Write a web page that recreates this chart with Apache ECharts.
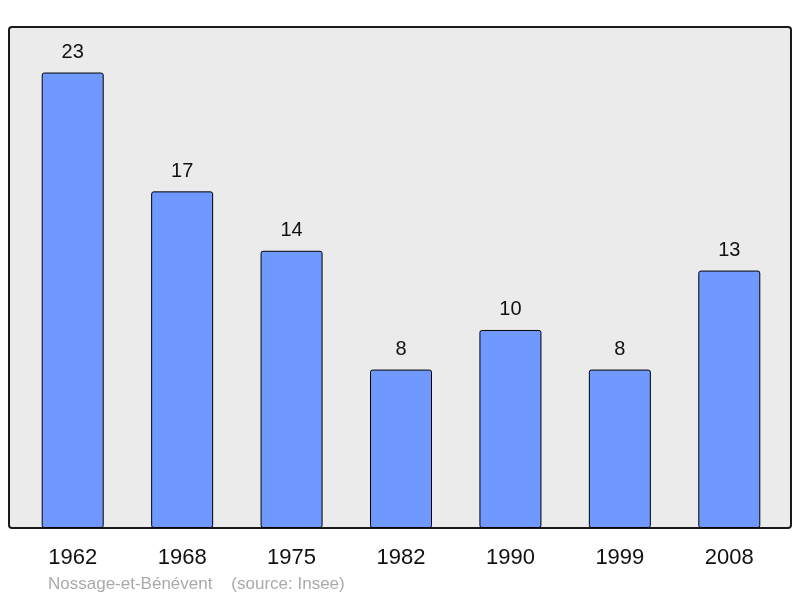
<!DOCTYPE html>
<html>
<head>
<meta charset="utf-8">
<script src="https://cdn.jsdelivr.net/npm/echarts@6/dist/echarts.min.js"></script>
<style>
  html, body { margin: 0; padding: 0; background: #fff; }
  #chart { width: 800px; height: 598px; }
</style>
</head>
<body>
<div id="chart"></div>
<script>
// --- data ---
const years = ['1962', '1968', '1975', '1982', '1990', '1999', '2008']
const population = [23, 17, 14, 8, 10, 8, 13]
const footer = 'Nossage-et-Bénévent    (source: Insee)'

const chart = echarts.init(document.getElementById('chart'))
chart.setOption({
  animation: false,
  textStyle: { fontFamily: 'Liberation Sans, Arial, sans-serif' },
  // plot frame drawn behind the bars
  graphic: [
    {
      type: 'rect', z: -10,
      shape: { x: 9, y: 27, width: 782, height: 501, r: 3 },
      style: { fill: '#ebebeb', stroke: '#1a1a1a', lineWidth: 2 }
    },
    {
      type: 'text', left: 48, top: 576,
      style: { text: footer, fill: '#aaaaaa', fontSize: 17, fontFamily: 'Liberation Sans, Arial, sans-serif' }
    }
  ],
  grid: { left: 18, right: 16, top: 27, bottom: 70 },
  xAxis: {
    type: 'category',
    data: years,
    axisLine: { show: false },
    axisTick: { show: false },
    axisLabel: { color: '#111', fontSize: 22, margin: 19 }
  },
  yAxis: {
    type: 'value',
    min: 0,
    max: 25.3,
    show: false,
    splitLine: { show: false }
  },
  series: [{
    type: 'bar',
    data: population,
    barWidth: 62,
    itemStyle: { color: '#7099ff', borderColor: '#000', borderWidth: 1, borderRadius: 2 },
    label: { show: true, position: 'top', distance: 10, color: '#111', fontSize: 20 }
  }]
})
</script>
</body>
</html>
